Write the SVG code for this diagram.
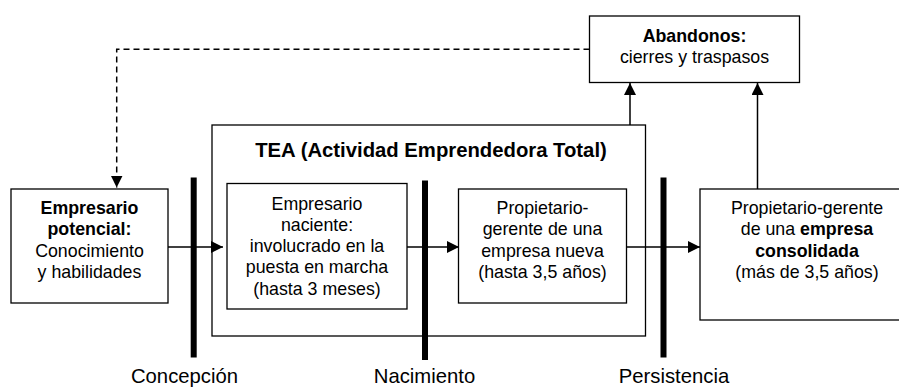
<svg xmlns="http://www.w3.org/2000/svg" width="899" height="387" viewBox="0 0 899 387">
  <defs>
    <style>
      .box { fill: #fff; stroke: #000; stroke-width: 1.3; }
      .t { font-family: "Liberation Sans", Arial, sans-serif; font-size: 17.8px; fill: #000; text-anchor: middle; }
      .b { font-weight: bold; }
      .title { font-family: "Liberation Sans", Arial, sans-serif; font-size: 20.3px; font-weight: bold; fill: #000; text-anchor: middle; }
      .lbl { font-family: "Liberation Sans", Arial, sans-serif; font-size: 20.3px; fill: #000; text-anchor: middle; }
      .line { fill: none; stroke: #000; stroke-width: 1.5; }
      .dash { fill: none; stroke: #000; stroke-width: 1.5; stroke-dasharray: 6 4; }
      .bar { fill: #000; }
    </style>
    <marker id="ah" viewBox="0 0 12 12" refX="12" refY="6" markerWidth="12" markerHeight="12" markerUnits="userSpaceOnUse" orient="auto">
      <path d="M0,0 L12,6 L0,12 Z" fill="#000"/>
    </marker>
  </defs>

  <g id="tea">
    <rect class="box" x="212" y="125" width="433.5" height="211"/>
    <text class="title" x="431" y="157">TEA (Actividad Emprendedora Total)</text>
  </g>

  <g id="empresario-potencial">
    <rect class="box" x="11" y="189" width="157" height="114"/>
    <text class="t b" x="89.5" y="213.5">Empresario</text>
    <text class="t b" x="89.5" y="235">potencial:</text>
    <text class="t" x="89.5" y="256.5">Conocimiento</text>
    <text class="t" x="89.5" y="278">y habilidades</text>
  </g>

  <g id="empresario-naciente">
    <rect class="box" x="227" y="183.5" width="180" height="125.5"/>
    <text class="t" x="317" y="209.5">Empresario</text>
    <text class="t" x="317" y="230.8">naciente:</text>
    <text class="t" x="317" y="252.1">involucrado en la</text>
    <text class="t" x="317" y="273.4">puesta en marcha</text>
    <text class="t" x="317" y="294.7">(hasta 3 meses)</text>
  </g>

  <g id="empresa-nueva">
    <rect class="box" x="458.5" y="189" width="168" height="114"/>
    <text class="t" x="542.5" y="213.5">Propietario-</text>
    <text class="t" x="542.5" y="235">gerente de una</text>
    <text class="t" x="542.5" y="256.5">empresa nueva</text>
    <text class="t" x="542.5" y="278">(hasta 3,5 años)</text>
  </g>

  <g id="empresa-consolidada">
    <rect class="box" x="700" y="189" width="210" height="131"/>
    <text class="t" x="807" y="213.5">Propietario-gerente</text>
    <text class="t" x="807" y="235">de una <tspan class="b">empresa</tspan></text>
    <text class="t b" x="807" y="256.5">consolidada</text>
    <text class="t" x="807" y="278">(más de 3,5 años)</text>
  </g>

  <g id="abandonos">
    <rect class="box" x="589.5" y="16" width="210" height="66.5"/>
    <text class="t b" x="694.5" y="41.5">Abandonos:</text>
    <text class="t" x="694.5" y="63">cierres y traspasos</text>
  </g>

  <g id="hitos">
    <rect class="bar" x="190.7" y="177.5" width="6" height="180"/>
    <rect class="bar" x="422" y="180.5" width="6" height="179.5"/>
    <rect class="bar" x="660.5" y="177.5" width="6" height="180"/>
    <text class="lbl" x="184.5" y="382.7">Concepción</text>
    <text class="lbl" x="424.5" y="382.7">Nacimiento</text>
    <text class="lbl" x="674" y="382.7">Persistencia</text>
  </g>

  <g id="connectors">
    <path class="line" d="M168,247 H223" marker-end="url(#ah)"/>
    <path class="line" d="M407,247 H459" marker-end="url(#ah)"/>
    <path class="line" d="M626.5,247 H700" marker-end="url(#ah)"/>
    <path class="line" d="M630,125 V83" marker-end="url(#ah)"/>
    <path class="line" d="M757.5,189 V83" marker-end="url(#ah)"/>
    <path class="dash" d="M589.5,49.3 H116.7 V187.5" marker-end="url(#ah)"/>
  </g>
</svg>
